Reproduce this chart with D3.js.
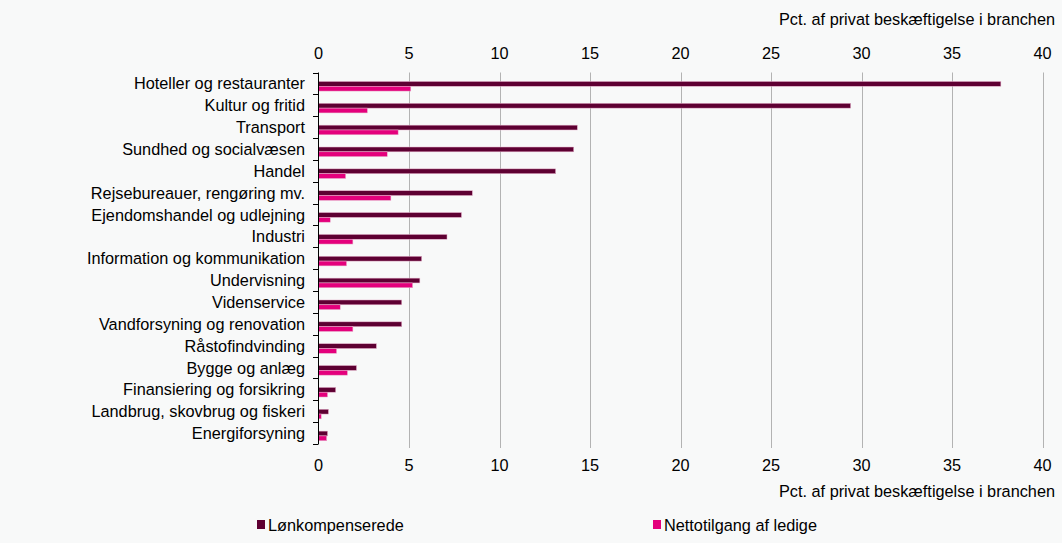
<!DOCTYPE html>
<html>
<head>
<meta charset="utf-8">
<script src="https://cdn.jsdelivr.net/npm/d3@7"></script>
<style>
  body { margin: 0; background: #f8f9f9; }
  text { font-family: "Liberation Sans", Arial, sans-serif; fill: #000; }
</style>
</head>
<body>
<div id="chart"></div>
<script>
// categories top to bottom
var categories = ["Hoteller og restauranter", "Kultur og fritid", "Transport", "Sundhed og socialvæsen",
  "Handel", "Rejsebureauer, rengøring mv.", "Ejendomshandel og udlejning", "Industri",
  "Information og kommunikation", "Undervisning", "Videnservice", "Vandforsyning og renovation",
  "Råstofindvinding", "Bygge og anlæg", "Finansiering og forsikring", "Landbrug, skovbrug og fiskeri",
  "Energiforsyning"];
var lonkomp = [37.7, 29.4, 14.3, 14.1, 13.1, 8.5, 7.9, 7.1, 5.7, 5.6, 4.6, 4.6, 3.2, 2.1, 0.95, 0.55, 0.5];
var netto   = [5.1, 2.7, 4.4, 3.8, 1.5, 4.0, 0.65, 1.9, 1.55, 5.2, 1.2, 1.9, 1.0, 1.6, 0.5, 0.15, 0.45];
var seriesNames = ["Lønkompenserede", "Nettotilgang af ledige"];
var colors = ["#5e0032", "#e4007c"];
var xTicks = [0, 5, 10, 15, 20, 25, 30, 35, 40];
var axisTitle = "Pct. af privat beskæftigelse i branchen";

var W = 1062, H = 543;
var fs = 16.3;
var svg = d3.select("#chart").append("svg").attr("width", W).attr("height", H);

var x = d3.scaleLinear().domain([0, 40]).range([318.5, 1042.5]);
var y = d3.scaleBand().domain(categories).range([72.5, 444]).padding(0);
var bw = y.bandwidth();

// gridlines
svg.append("g").selectAll("line").data(xTicks.slice(1)).enter().append("line")
  .attr("x1", d => Math.round(x(d)) + 0.5).attr("x2", d => Math.round(x(d)) + 0.5)
  .attr("y1", 72.5).attr("y2", 448)
  .attr("stroke", "#b3b3b3").attr("stroke-width", 1);

// bars
var rows = categories.map((c, i) => ({ name: c, vals: [lonkomp[i], netto[i]] }));
var g = svg.append("g");
rows.forEach(function (r) {
  r.vals.forEach(function (v, k) {
    g.append("rect")
      .attr("x", x(0))
      .attr("y", y(r.name) + bw * 0.41 + k * bw * 0.22)
      .attr("width", x(v) - x(0))
      .attr("height", bw * 0.22)
      .attr("fill", colors[k])
      .attr("stroke", "#e8b3cd").attr("stroke-width", 0.5);
  });
});

// category axis
var yAxis = svg.append("g");
yAxis.append("line").attr("x1", 318.5).attr("x2", 318.5).attr("y1", 72.5).attr("y2", 444)
  .attr("stroke", "#000");
var bounds = categories.map(c => y(c)).concat([444]);
yAxis.selectAll("line.tk").data(bounds).enter().append("line").attr("class", "tk")
  .attr("x1", 313).attr("x2", 318.5)
  .attr("y1", d => Math.round(d) + 0.5).attr("y2", d => Math.round(d) + 0.5)
  .attr("stroke", "#000");
yAxis.selectAll("text").data(categories).enter().append("text")
  .attr("x", 305).attr("y", d => y(d) + bw / 2)
  .attr("text-anchor", "end").attr("dominant-baseline", "central")
  .attr("font-size", fs).text(d => d);

// x tick labels top & bottom
[53, 465].forEach(function (ty) {
  svg.append("g").selectAll("text").data(xTicks).enter().append("text")
    .attr("x", d => x(d)).attr("y", ty)
    .attr("text-anchor", "middle").attr("dominant-baseline", "central")
    .attr("font-size", fs).text(d => d);
});

// axis titles
[19, 491].forEach(function (ty) {
  svg.append("text").attr("x", 1055).attr("y", ty)
    .attr("text-anchor", "end").attr("dominant-baseline", "central")
    .attr("font-size", fs).text(axisTitle);
});

// legend
var legX = [257, 653];
seriesNames.forEach(function (s, k) {
  svg.append("rect").attr("x", legX[k]).attr("y", 520).attr("width", 8).attr("height", 9)
    .attr("fill", colors[k]);
  svg.append("text").attr("x", legX[k] + 11).attr("y", 525)
    .attr("dominant-baseline", "central").attr("font-size", fs).text(s);
});
</script>
</body>
</html>
